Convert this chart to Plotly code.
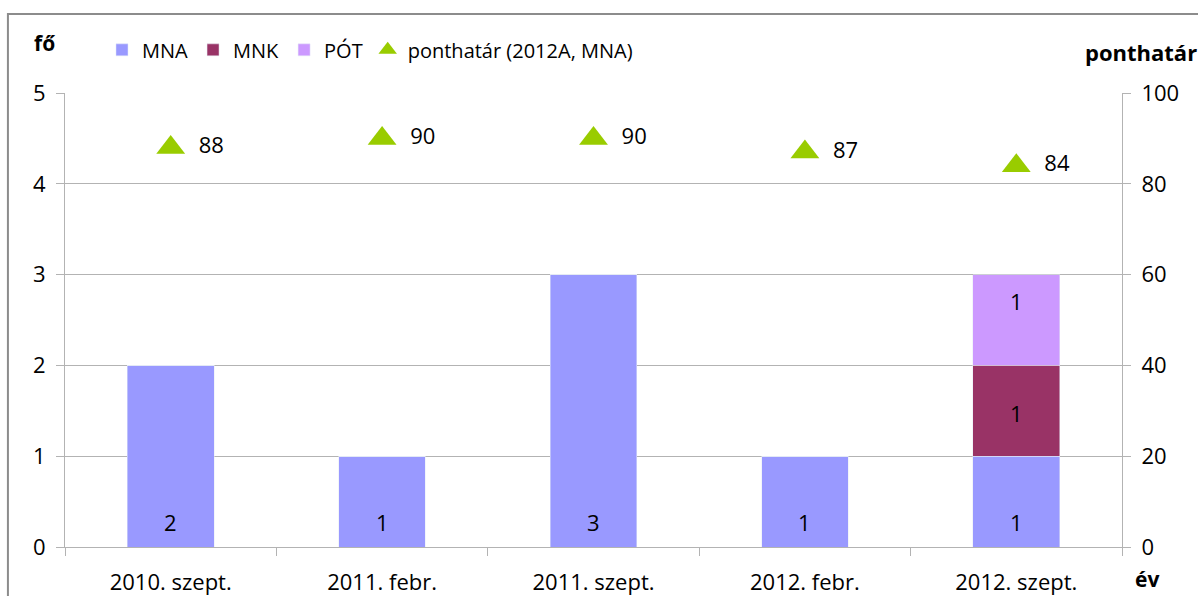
import plotly.graph_objects as go

# Exam sessions and admissions per track
categories = ["2010. szept.", "2011. febr.", "2011. szept.", "2012. febr.", "2012. szept."]
mna = [2, 1, 3, 1, 1]
mnk = [0, 0, 0, 0, 1]
pot = [0, 0, 0, 0, 1]
ponthatar = [88, 90, 90, 87, 84]

left_ticks = [0, 1, 2, 3, 4, 5]
right_ticks = [0, 20, 40, 60, 80, 100]

FONT = "Open Sans"
GRID = "#B3B3B3"
LABEL_SIZE = 21

fig = go.Figure()
series = [
    ("MNA", mna, "#9999FF", 25),
    ("MNK", mnk, "#993366", 43),
    ("PÓT", pot, "#CC99FF", 64),
]
for name, vals, color, _ in series:
    fig.add_trace(go.Bar(x=categories, y=vals, name=name, marker_color=color))

fig.add_trace(go.Scatter(
    x=categories, y=ponthatar, name="ponthatár (2012A, MNA)", yaxis="y2",
    mode="markers+text", marker=dict(symbol="triangle-up", size=25, color="#99CC00"),
    text=["  " + str(v) for v in ponthatar], textposition="middle right",
    textfont=dict(color="black", size=LABEL_SIZE + 1, family=FONT),
))

# value labels on each stacked bar segment, offset from the segment's base
annotations = []
base = [0] * len(categories)
for name, vals, color, lift in series:
    for i, v in enumerate(vals):
        if v:
            annotations.append(dict(
                x=categories[i], y=base[i], xref="x", yref="y", text=str(v),
                showarrow=False, yanchor="middle", yshift=lift,
                font=dict(size=LABEL_SIZE + 1, color="black"),
            ))
        base[i] += v

annotations += [
    dict(text="<b>fő</b>", xref="paper", yref="paper", x=-0.019, y=1.11,
         xanchor="center", yanchor="middle", showarrow=False, font=dict(size=21)),
    dict(text="<b>ponthatár</b>", xref="paper", yref="paper", x=1.073, y=1.09,
         xanchor="right", yanchor="middle", showarrow=False, font=dict(size=22)),
    dict(text="<b>év</b>", xref="paper", yref="paper", x=1.0235, y=-0.07,
         xanchor="center", yanchor="middle", showarrow=False, font=dict(size=21)),
]

fig.update_layout(
    width=1198, height=596,
    margin=dict(l=65, r=76, t=93, b=49, autoexpand=False),
    paper_bgcolor="white", plot_bgcolor="white",
    barmode="stack", bargap=0.59,
    font=dict(family=FONT, size=LABEL_SIZE, color="black"),
    showlegend=True,
    legend=dict(
        orientation="h", x=0.035, y=1.095, xanchor="left", yanchor="middle",
        font=dict(size=20, family=FONT), itemwidth=30, traceorder="normal",
        bgcolor="rgba(0,0,0,0)",
    ),
    xaxis=dict(
        type="category", tickson="boundaries", ticks="outside", ticklen=8,
        tickcolor=GRID, showline=True, linecolor=GRID, linewidth=1,
        showgrid=False, tickfont=dict(size=22), ticklabelstandoff=16,
        range=[-0.5, 4.5], automargin=False,
    ),
    yaxis=dict(
        range=[0, 5], tickvals=left_ticks, ticks="outside", ticklen=8,
        tickcolor=GRID, showline=True, linecolor=GRID, linewidth=1,
        showgrid=True, gridcolor=GRID, gridwidth=1, zeroline=False,
        tickfont=dict(size=22), ticklabelstandoff=6, automargin=False,
    ),
    yaxis2=dict(
        range=[0, 100], tickvals=right_ticks, overlaying="y", side="right",
        ticks="outside", ticklen=8, tickcolor=GRID, showline=True,
        linecolor=GRID, linewidth=1, showgrid=False, zeroline=False,
        tickfont=dict(size=22), ticklabelstandoff=6, automargin=False,
    ),
    shapes=[dict(
        type="rect", xref="paper", yref="paper",
        x0=-0.054, x1=1.3, y0=-0.3, y1=1.174,
        line=dict(color="#8C8C8C", width=2), fillcolor="rgba(0,0,0,0)",
        layer="below",
    )],
    annotations=annotations,
)

fig.write_html("out.html")
